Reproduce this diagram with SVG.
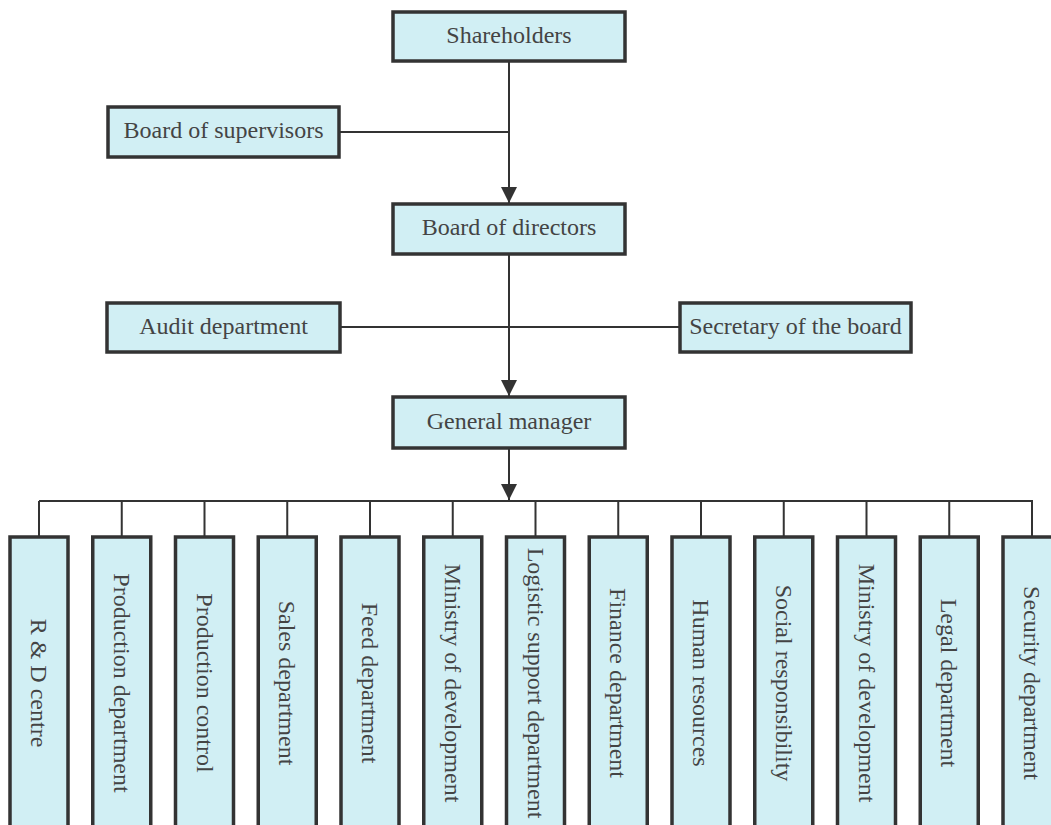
<svg xmlns="http://www.w3.org/2000/svg" width="1051" height="825" viewBox="0 0 1051 825">
<style>
.box{fill:#d1eff4;stroke:#333;stroke-width:3.5}
.lbl{font-size:24px;fill:#444;text-anchor:middle}
.ln{stroke:#333;stroke-width:2;fill:none}
</style>
<defs>
<marker id="arr" markerUnits="userSpaceOnUse" markerWidth="17" markerHeight="16" refX="16" refY="8" orient="auto" viewBox="0 0 17 16">
<path d="M0,0 L16,8 L0,16 Z" fill="#333"/>
</marker>
</defs>
<rect width="1051" height="825" fill="#fff"/>
<g id="connectors">
<path class="ln" d="M509,61 V203" marker-end="url(#arr)"/>
<path class="ln" d="M339,132 H509"/>
<path class="ln" d="M509,254 V396" marker-end="url(#arr)"/>
<path class="ln" d="M340,327 H680"/>
<path class="ln" d="M509,448 V500" marker-end="url(#arr)"/>
<path class="ln" d="M39,501 H1033"/>
<path class="ln" d="M39,501 V537 M121.75,501 V537 M204.5,501 V537 M287.25,501 V537 M370,501 V537 M452.75,501 V537 M535.5,501 V537 M618.25,501 V537 M701,501 V537 M783.75,501 V537 M866.5,501 V537 M949.25,501 V537 M1032,501 V537"/>
</g>
<g font-family="'Liberation Serif', 'Times New Roman', serif">
<g id="shareholders"><rect class="box" x="393" y="12" width="232" height="49"/><text class="lbl" x="509" y="43">Shareholders</text></g>
<g id="supervisors"><rect class="box" x="108" y="107" width="231" height="50"/><text class="lbl" x="223.5" y="138">Board of supervisors</text></g>
<g id="directors"><rect class="box" x="393" y="204" width="232" height="50"/><text class="lbl" x="509" y="235">Board of directors</text></g>
<g id="audit"><rect class="box" x="107" y="303" width="233" height="49"/><text class="lbl" x="223.5" y="334">Audit department</text></g>
<g id="secretary"><rect class="box" x="680" y="303" width="231" height="49"/><text class="lbl" x="795.5" y="334">Secretary of the board</text></g>
<g id="gm"><rect class="box" x="393" y="397" width="232" height="51"/><text class="lbl" x="509" y="429">General manager</text></g>
<g id="d1"><rect class="box" x="10" y="537" width="58" height="300"/><text class="lbl" transform="translate(39,683) rotate(90)" dy="0.33em">R &amp; D centre</text></g>
<g id="d2"><rect class="box" x="92.75" y="537" width="58" height="300"/><text class="lbl" transform="translate(121.75,683) rotate(90)" dy="0.33em">Production department</text></g>
<g id="d3"><rect class="box" x="175.5" y="537" width="58" height="300"/><text class="lbl" transform="translate(204.5,683) rotate(90)" dy="0.33em">Production control</text></g>
<g id="d4"><rect class="box" x="258.25" y="537" width="58" height="300"/><text class="lbl" transform="translate(287.25,683) rotate(90)" dy="0.33em">Sales department</text></g>
<g id="d5"><rect class="box" x="341" y="537" width="58" height="300"/><text class="lbl" transform="translate(370,683) rotate(90)" dy="0.33em">Feed department</text></g>
<g id="d6"><rect class="box" x="423.75" y="537" width="58" height="300"/><text class="lbl" transform="translate(452.75,683) rotate(90)" dy="0.33em">Ministry of development</text></g>
<g id="d7"><rect class="box" x="506.5" y="537" width="58" height="300"/><text class="lbl" transform="translate(535.5,683) rotate(90)" dy="0.33em">Logistic support department</text></g>
<g id="d8"><rect class="box" x="589.25" y="537" width="58" height="300"/><text class="lbl" transform="translate(618.25,683) rotate(90)" dy="0.33em">Finance department</text></g>
<g id="d9"><rect class="box" x="672" y="537" width="58" height="300"/><text class="lbl" transform="translate(701,683) rotate(90)" dy="0.33em">Human resources</text></g>
<g id="d10"><rect class="box" x="754.75" y="537" width="58" height="300"/><text class="lbl" transform="translate(783.75,683) rotate(90)" dy="0.33em">Social responsibility</text></g>
<g id="d11"><rect class="box" x="837.5" y="537" width="58" height="300"/><text class="lbl" transform="translate(866.5,683) rotate(90)" dy="0.33em">Ministry of development</text></g>
<g id="d12"><rect class="box" x="920.25" y="537" width="58" height="300"/><text class="lbl" transform="translate(949.25,683) rotate(90)" dy="0.33em">Legal department</text></g>
<g id="d13"><rect class="box" x="1003" y="537" width="58" height="300"/><text class="lbl" transform="translate(1032,683) rotate(90)" dy="0.33em">Security department</text></g>
</g>
</svg>
